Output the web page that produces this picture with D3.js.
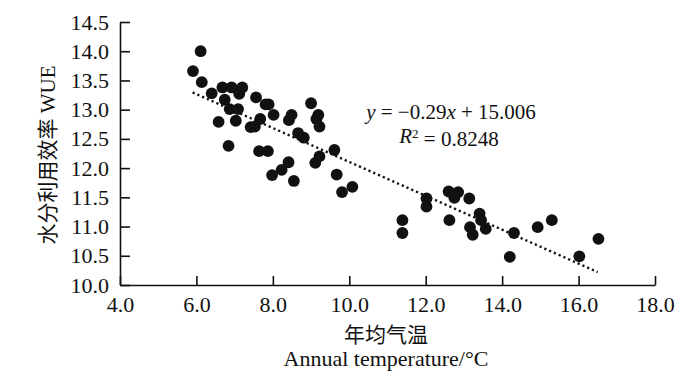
<!DOCTYPE html>
<html>
<head>
<meta charset="utf-8">
<script src="https://cdn.jsdelivr.net/npm/d3@7"></script>
<style>
  body { margin: 0; background: #fff; }
  svg text { font-family: "Liberation Serif", "Times New Roman", "Noto Sans CJK SC", serif; fill: #111; }
  .axis path, .axis line { stroke: #111; stroke-width: 1.6; }
  .axis text { font-size: 22px; }
</style>
</head>
<body>
<div id="chart"></div>
<script>
// annual temperature (°C) vs water use efficiency
var temperature = [5.91, 6.11, 6.14, 6.40, 6.68, 6.74, 6.58, 6.92, 6.87, 6.84,
    7.03, 7.09, 7.12, 7.20, 7.42, 7.53, 7.56, 7.67, 7.64, 7.81,
    7.89, 7.87, 8.02, 7.98, 8.23, 8.41, 8.42, 8.49, 8.55, 8.66,
    8.81, 9.00, 9.11, 9.14, 9.19, 9.22, 9.22, 9.61, 9.67, 9.81,
    10.08, 11.39, 11.39, 12.02, 12.02, 12.60, 12.62, 12.75, 12.85, 13.14,
    13.41, 13.45, 13.57, 13.16, 13.23, 14.31, 14.20, 14.93, 15.30, 16.02, 16.52];
var wue = [13.66, 14.00, 13.47, 13.28, 13.38, 13.17, 12.79, 13.38, 13.01, 12.38,
    12.81, 13.01, 13.27, 13.38, 12.70, 12.71, 13.21, 12.84, 12.29, 13.09,
    13.09, 12.29, 12.91, 11.88, 11.97, 12.10, 12.82, 12.91, 11.78, 12.60,
    12.52, 13.11, 12.09, 12.84, 12.91, 12.71, 12.20, 12.31, 11.89, 11.59,
    11.68, 11.11, 10.89, 11.48, 11.34, 11.60, 11.11, 11.49, 11.59, 11.48,
    11.22, 11.11, 10.96, 10.99, 10.86, 10.89, 10.48, 10.99, 11.11, 10.49, 10.79];

// fitted trend line y = slope * x + intercept
var slope = -0.29;
var intercept = 15.006;
var fitRange = [5.9, 16.5];

var xTicks = [4, 6, 8, 10, 12, 14, 16, 18];
var yTicks = [10, 10.5, 11, 11.5, 12, 12.5, 13, 13.5, 14, 14.5];

var svgWidth = 700;
var svgHeight = 386;
var margin = { top: 22, right: 45, bottom: 101, left: 120 };
var width = svgWidth - margin.left - margin.right;
var height = svgHeight - margin.top - margin.bottom;

var svg = d3.select("#chart")
    .append("svg")
    .attr("width", svgWidth)
    .attr("height", svgHeight);

var chartGroup = svg.append("g")
    .attr("transform", `translate(${margin.left}, ${margin.top})`);

var xScale = d3.scaleLinear().domain([4, 18]).range([0, width]);
var yScale = d3.scaleLinear().domain([10, 14.5]).range([height, 0]);

// axes, ticks point inward
chartGroup.append("g")
    .attr("class", "axis")
    .attr("transform", `translate(0, ${height})`)
    .call(d3.axisBottom(xScale)
        .tickValues(xTicks)
        .tickFormat(d3.format(".1f"))
        .tickSizeInner(-9)
        .tickSizeOuter(0)
        .tickPadding(11));

chartGroup.append("g")
    .attr("class", "axis")
    .call(d3.axisLeft(yScale)
        .tickValues(yTicks)
        .tickFormat(d3.format(".1f"))
        .tickSizeInner(-10)
        .tickSizeOuter(0)
        .tickPadding(11));

// dotted trend line
var fitLine = d3.line()
    .x(d => xScale(d))
    .y(d => yScale(slope * d + intercept));

chartGroup.append("path")
    .datum(fitRange)
    .attr("d", fitLine)
    .attr("fill", "none")
    .attr("stroke", "#111")
    .attr("stroke-width", 2.4)
    .attr("stroke-dasharray", "2.2,3");

// points
chartGroup.append("g")
    .selectAll("circle")
    .data(temperature)
    .enter()
    .append("circle")
    .attr("cx", d => xScale(d))
    .attr("cy", (d, i) => yScale(wue[i]))
    .attr("r", 5.9)
    .attr("fill", "#111");

// equation
var eq = chartGroup.append("text")
    .attr("x", 451 - margin.left)
    .attr("y", 119 - margin.top)
    .attr("text-anchor", "middle")
    .style("font-size", "21px");
eq.append("tspan").style("font-style", "italic").text("y");
eq.append("tspan").text(" = \u22120.29");
eq.append("tspan").style("font-style", "italic").text("x");
eq.append("tspan").text(" + 15.006");

var r2 = chartGroup.append("text")
    .attr("x", 449 - margin.left)
    .attr("y", 143 - margin.top)
    .attr("text-anchor", "middle")
    .style("font-size", "21px");
r2.append("tspan").style("font-style", "italic").text("R");
r2.append("tspan").attr("dy", "-0.35em").style("font-size", "13px").text("2");
r2.append("tspan").attr("dy", "0.35em").text(" = 0.8248");

// axis titles
svg.append("text")
    .attr("transform", "translate(55, 155) rotate(-90)")
    .attr("text-anchor", "middle")
    .style("font-size", "21px")
    .text("水分利用效率 WUE");

svg.append("text")
    .attr("x", 386)
    .attr("y", 342)
    .attr("text-anchor", "middle")
    .style("font-size", "21px")
    .text("年均气温");

svg.append("text")
    .attr("x", 386)
    .attr("y", 366)
    .attr("text-anchor", "middle")
    .style("font-size", "22px")
    .text("Annual temperature/\u00b0C");
</script>
</body>
</html>
